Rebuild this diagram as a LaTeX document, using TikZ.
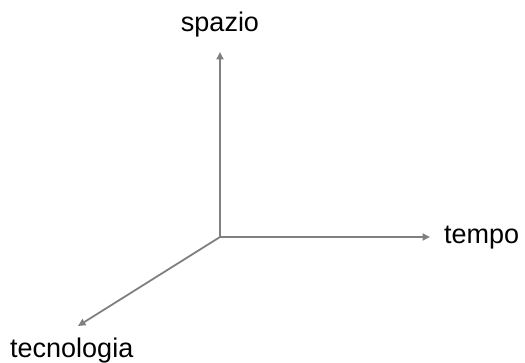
\documentclass[tikz,border=0pt]{standalone}
\usepackage{fontspec}
\setmainfont{Liberation Sans}
\usetikzlibrary{arrows.meta}
\begin{document}
\begin{tikzpicture}[x=1pt,y=1pt,
  axis/.style={draw={rgb,255:red,128;green,128;blue,128},line width=1.8pt,-{Triangle[length=7.5pt,width=7pt]}},
  lbl/.style={inner sep=0pt,font=\fontsize{27}{32}\selectfont}]
\useasboundingbox (0,0) rectangle (525,362);
\coordinate (O) at (220,125);
\coordinate (U) at (220,310);
\coordinate (R) at (430,125);
\coordinate (D) at (78,36);
\draw[axis] (O) -- (U);
\draw[axis] (O) -- (R);
\draw[axis] (O) -- (D);
\node[lbl,anchor=base] (s) at (220,330) {spazio};
\node[lbl,anchor=base west] (t) at (444,119) {tempo};
\node[lbl,anchor=base west] (c) at (10,5) {tecnologia};
\end{tikzpicture}
\end{document}
